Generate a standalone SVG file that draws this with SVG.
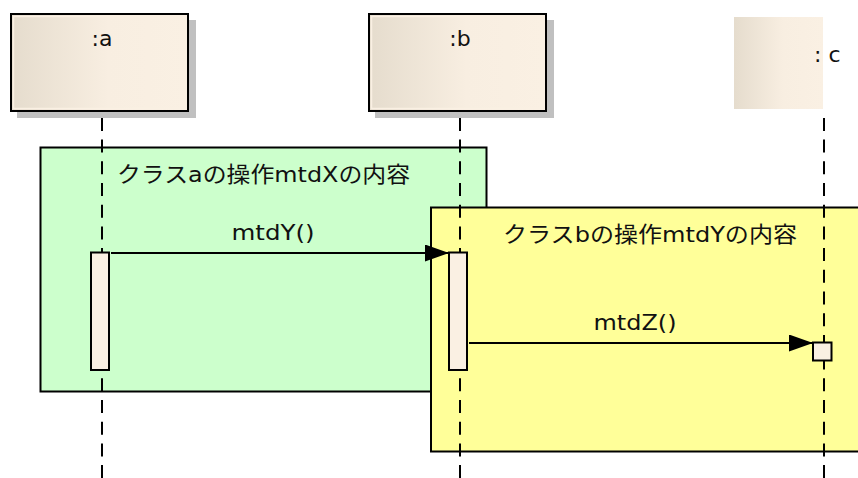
<svg xmlns="http://www.w3.org/2000/svg" width="858" height="478" viewBox="0 0 858 478">
  <defs>
    <linearGradient id="headFill" x1="0" y1="0" x2="1" y2="0">
      <stop offset="0" stop-color="#e5dccd"/>
      <stop offset="0.55" stop-color="#f8eee1"/>
      <stop offset="1" stop-color="#faf0e3"/>
    </linearGradient>
    <marker id="arrow" markerUnits="userSpaceOnUse" markerWidth="24" markerHeight="17" refX="24" refY="8.5" orient="auto">
      <path d="M0,0 L24,8.5 L0,17 Z" fill="#000"/>
    </marker>
    <style>
      .txt { font-family: "DejaVu Sans", "Noto Sans CJK JP", sans-serif; font-size: 22px; fill: #111; }
      .shadow { fill: #c0c0c0; }
      .head { fill: url(#headFill); stroke: #000; stroke-width: 2; }
      .inner { fill: none; stroke: #faf0e3; stroke-width: 1.5; }
      .frame { stroke: #000; stroke-width: 2; }
      .life { stroke: #000; stroke-width: 2; stroke-dasharray: 13 8.7; stroke-dashoffset: 14.8; fill: none; }
      .act { fill: #faf0e3; stroke: #000; stroke-width: 2; }
      .msg { stroke: #000; stroke-width: 2; fill: none; marker-end: url(#arrow); }
    </style>
  </defs>

  <g id="frame-a">
    <rect class="frame" x="40.5" y="147.5" width="446" height="244" fill="#ccffcc"/>
    <text class="txt" x="117" y="182" textLength="293" lengthAdjust="spacingAndGlyphs">クラスaの操作mtdXの内容</text>
  </g>
  <g id="frame-b">
    <rect x="431" y="207.5" width="440" height="244" fill="#ffff99" stroke="#000" stroke-width="2"/>
    <text class="txt" x="503" y="242" textLength="294" lengthAdjust="spacingAndGlyphs">クラスbの操作mtdYの内容</text>
  </g>

  <g id="lifelines">
    <line class="life" x1="102" y1="111" x2="102" y2="478"/>
    <line class="life" x1="460" y1="111" x2="460" y2="478"/>
    <line class="life" x1="824" y1="111" x2="824" y2="478"/>
  </g>

  <g id="lifeline-a">
    <rect class="shadow" x="17" y="20" width="179" height="98"/>
    <rect class="head" x="11" y="14" width="177" height="97"/>
    <rect class="inner" x="13.5" y="16.5" width="172" height="92"/>
    <text class="txt" x="102" y="46" text-anchor="middle">:a</text>
  </g>
  <g id="lifeline-b">
    <rect class="shadow" x="375" y="20" width="179" height="98"/>
    <rect class="head" x="369" y="14" width="177" height="97"/>
    <rect class="inner" x="371.5" y="16.5" width="172" height="92"/>
    <text class="txt" x="460" y="46" text-anchor="middle">:b</text>
  </g>
  <g id="lifeline-c">
    <rect x="734" y="17" width="89" height="92" fill="url(#headFill)"/>
    <text class="txt" x="814" y="62">: c</text>
  </g>

  <g id="activations">
    <rect class="act" x="91" y="252.5" width="18" height="117.5"/>
    <rect class="act" x="449" y="252.5" width="18" height="117.5"/>
    <rect class="act" x="813" y="342.5" width="18.5" height="18"/>
  </g>

  <g id="connectors">
    <line class="msg" x1="111" y1="253" x2="449" y2="253"/>
    <text class="txt" x="273" y="240" text-anchor="middle" textLength="83" lengthAdjust="spacingAndGlyphs">mtdY()</text>
    <line class="msg" x1="469" y1="343" x2="813" y2="343"/>
    <text class="txt" x="635" y="330" text-anchor="middle" textLength="83" lengthAdjust="spacingAndGlyphs">mtdZ()</text>
  </g>
</svg>
